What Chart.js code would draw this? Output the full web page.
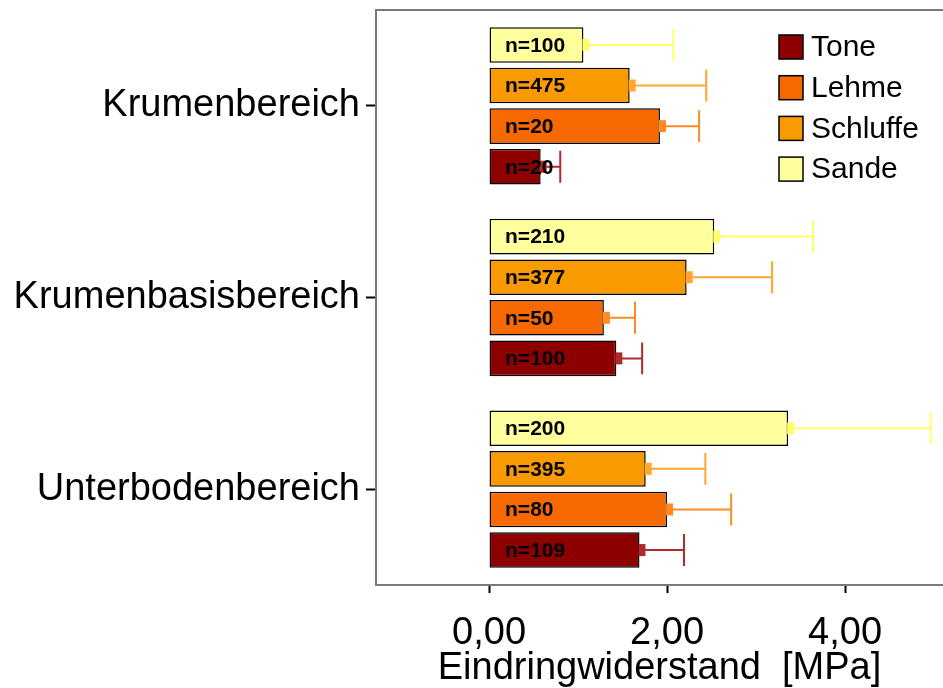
<!DOCTYPE html>
<html>
<head>
<meta charset="utf-8">
<title>Eindringwiderstand</title>
<script src="https://cdn.jsdelivr.net/npm/chart.js@4.4.0/dist/chart.umd.min.js"></script>
<style>
  body { margin: 0; background: #fff; }
  #wrap { width: 943px; height: 688px; }
</style>
</head>
<body>
<div id="wrap"><canvas id="chart1" width="943" height="688"></canvas></div>
<script>
// Kategorien (Tiefenbereiche) und Bodenarten
var bereiche = ["Krumenbereich", "Krumenbasisbereich", "Unterbodenbereich"];
var bodenarten = ["Sande", "Schluffe", "Lehme", "Tone"];

// Mittelwerte [MPa] je Bodenart
var mwSande = [1.06, 2.53, 3.36];
var mwSchluffe = [1.58, 2.22, 1.76];
var mwLehme = [1.92, 1.29, 2.00];
var mwTone = [0.58, 1.43, 1.69];

// Standardabweichung (obere Fehlerbalken)
var sdSande = [1.01, 1.11, 1.60];
var sdSchluffe = [0.86, 0.96, 0.67];
var sdLehme = [0.44, 0.35, 0.72];
var sdTone = [0.22, 0.29, 0.50];

// Stichprobenumfang
var nSande = [100, 210, 200];
var nSchluffe = [475, 377, 395];
var nLehme = [20, 50, 80];
var nTone = [20, 100, 109];

var xTicks = [0, 2, 4];

var fuellFarben = ["#FFFF9C", "#F89A00", "#F56900", "#8E0000"];
var fehlerFarben = ["#FFFF66", "#FFA62E", "#FF8A22", "#B02A2A"];

var mittelwerte = [mwSande, mwSchluffe, mwLehme, mwTone];
var abweichungen = [sdSande, sdSchluffe, sdLehme, sdTone];
var anzahlen = [nSande, nSchluffe, nLehme, nTone];

var schrift = "'Liberation Sans', Arial, sans-serif";

var datensaetze = bodenarten.map(function (name, i) {
    return {
        label: name,
        data: mittelwerte[i],
        sd: abweichungen[i],
        n: anzahlen[i],
        fehlerFarbe: fehlerFarben[i],
        backgroundColor: fuellFarben[i],
        borderColor: "#000",
        borderWidth: 1.5,
        borderSkipped: false,
        categoryPercentage: 0.847,
        barPercentage: 0.875
    };
});

// Rahmen um die Plotflaeche (links, oben, unten)
var rahmen = {
    id: "rahmen",
    afterDraw: function (chart) {
        var ctx = chart.ctx, a = chart.chartArea;
        ctx.save();
        ctx.strokeStyle = "#7a7a7a";
        ctx.lineWidth = 2;
        ctx.beginPath();
        ctx.moveTo(a.right + 2, a.top);
        ctx.lineTo(a.left, a.top);
        ctx.lineTo(a.left, a.bottom);
        ctx.lineTo(a.right + 2, a.bottom);
        ctx.stroke();
        ctx.restore();
    }
};

// Fehlerbalken und n-Beschriftung
var fehlerbalken = {
    id: "fehlerbalken",
    afterDatasetsDraw: function (chart) {
        var ctx = chart.ctx;
        var xs = chart.scales.x;
        ctx.save();
        chart.data.datasets.forEach(function (ds, i) {
            var meta = chart.getDatasetMeta(i);
            meta.data.forEach(function (bar, j) {
                var x0 = xs.getPixelForValue(ds.data[j]);
                var x1 = xs.getPixelForValue(ds.data[j] + ds.sd[j]);
                var h = bar.height;
                ctx.strokeStyle = ds.fehlerFarbe;
                ctx.fillStyle = ds.fehlerFarbe;
                ctx.lineWidth = 2;
                ctx.beginPath();
                ctx.moveTo(x0, bar.y);
                ctx.lineTo(x1, bar.y);
                ctx.moveTo(x1, bar.y - h * 0.45);
                ctx.lineTo(x1, bar.y + h * 0.45);
                ctx.stroke();
                ctx.fillRect(x0 - 1, bar.y - 6, 7, 12);

                ctx.fillStyle = "#000";
                ctx.font = "bold 21px " + schrift;
                ctx.textAlign = "left";
                ctx.textBaseline = "middle";
                ctx.fillText("n=" + ds.n[j], xs.getPixelForValue(0) + 16, bar.y + 1);
            });
        });
        ctx.restore();
    }
};

// Legende innerhalb der Plotflaeche (Reihenfolge umgekehrt)
var legende = {
    id: "legende",
    afterDraw: function (chart) {
        var ctx = chart.ctx;
        ctx.save();
        ctx.font = "30px " + schrift;
        ctx.textAlign = "left";
        ctx.textBaseline = "middle";
        var ds = chart.data.datasets.slice().reverse();
        ds.forEach(function (d, k) {
            var y = 47 + k * 40.7;
            ctx.fillStyle = d.backgroundColor;
            ctx.fillRect(779, y - 12, 24, 24);
            ctx.strokeStyle = "#000";
            ctx.lineWidth = 1.5;
            ctx.strokeRect(779, y - 12, 24, 24);
            ctx.fillStyle = "#000";
            ctx.fillText(d.label, 811, y + 1);
        });
        ctx.restore();
    }
};

new Chart("chart1", {
    type: "bar",
    data: {
        labels: bereiche,
        datasets: datensaetze
    },
    options: {
        indexAxis: "y",
        responsive: false,
        animation: false,
        layout: { padding: { top: 10, right: 0, left: 0, bottom: 0 } },
        plugins: {
            legend: { display: false },
            tooltip: { enabled: false }
        },
        scales: {
            x: {
                min: -1.27,
                max: 5.1,
                afterBuildTicks: function (scale) {
                    scale.ticks = xTicks.map(function (v) { return { value: v }; });
                },
                afterFit: function (scale) {
                    scale.height = 103;
                    scale.paddingLeft = 0;
                    scale.paddingRight = 0;
                },
                ticks: {
                    color: "#000",
                    padding: 18,
                    font: { family: schrift, size: 38 },
                    callback: function (v) { return v.toFixed(2).replace(".", ","); }
                },
                grid: {
                    drawOnChartArea: false,
                    drawTicks: true,
                    tickLength: 8,
                    tickWidth: 2,
                    color: "#000"
                },
                border: { display: false },
                title: {
                    display: true,
                    text: "Eindringwiderstand  [MPa]",
                    color: "#000",
                    padding: { top: 0, bottom: 0 },
                    font: { family: schrift, size: 38, lineHeight: 1.0 }
                }
            },
            y: {
                afterFit: function (scale) {
                    scale.width = 376;
                    scale.paddingTop = 0;
                    scale.paddingBottom = 0;
                },
                ticks: {
                    color: "#000",
                    padding: 6,
                    font: { family: schrift, size: 38 }
                },
                grid: {
                    offset: false,
                    drawOnChartArea: false,
                    drawTicks: true,
                    tickLength: 10,
                    tickWidth: 2,
                    color: "#000"
                },
                border: { display: false }
            }
        }
    },
    plugins: [rahmen, fehlerbalken, legende]
});
</script>
</body>
</html>
